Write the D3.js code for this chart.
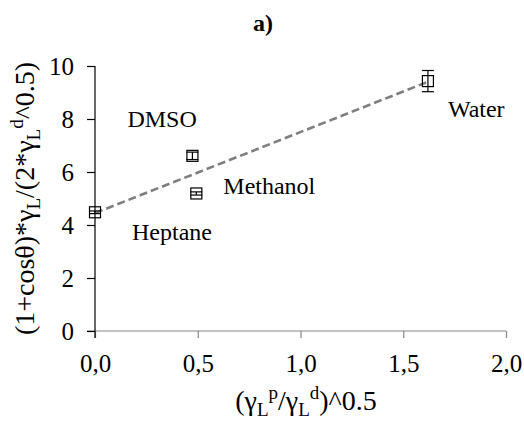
<!DOCTYPE html>
<html>
<head>
	<meta charset="utf-8">
	<script src="https://cdn.jsdelivr.net/npm/d3@7"></script>
</head>
<body style="margin:0;background:#fff">
<svg id="chart" width="524" height="423" font-family="Liberation Serif"></svg>
<script>
// liquids and measured values
var liquids = ["Heptane", "DMSO", "Methanol", "Water"];
var xVals = [0.0, 0.474, 0.493, 1.62];
var yVals = [4.48, 6.61, 5.19, 9.43];
var yErr = [0.05, 0.14, 0.06, 0.40];

var xTicks = [0, 0.5, 1.0, 1.5, 2.0];
var yTicks = [0, 2, 4, 6, 8, 10];

var serif = "Liberation Serif";

// chart size and margins
var width = 524, height = 423;
var margin = {top: 66, right: 18, bottom: 92, left: 95};
var plotW = width - margin.left - margin.right;
var plotH = height - margin.top - margin.bottom;

var svg = d3.select("#chart");

var x = d3.scaleLinear().domain([0, 2]).range([margin.left, margin.left + plotW]);
var y = d3.scaleLinear().domain([0, 10]).range([margin.top + plotH, margin.top]);

var fmt = function(d) { return d3.format(".1f")(d).replace(".", ","); };

// axes
var xAxis = svg.append("g")
	.attr("transform", "translate(0," + y(0) + ")")
	.call(d3.axisBottom(x).tickValues(xTicks).tickFormat(fmt).tickSize(7).tickSizeOuter(7).tickPadding(16));
xAxis.attr("font-family", serif).attr("font-size", 25);
xAxis.selectAll("path, line").attr("stroke", "#868686").attr("stroke-width", 1.2);
xAxis.select(".domain").attr("d", "M" + (x(0) - 8) + ",0H" + x(2));
xAxis.selectAll("text").attr("fill", "#000");

var yAxis = svg.append("g")
	.attr("transform", "translate(" + x(0) + ",0)")
	.call(d3.axisLeft(y).tickValues(yTicks).tickSize(8).tickSizeOuter(0).tickPadding(13));
yAxis.attr("font-family", serif).attr("font-size", 25);
yAxis.selectAll("path, line").attr("stroke", "#000").attr("stroke-width", 1.2);
yAxis.select(".domain").attr("d", "M0," + y(10) + "V" + (y(0) + 7));
yAxis.selectAll("text").attr("fill", "#000");

// title
svg.append("text")
	.attr("x", 263).attr("y", 31)
	.attr("text-anchor", "middle")
	.attr("font-family", serif).attr("font-size", 24).attr("font-weight", "bold")
	.text("a)");

// linear trend line (least squares)
var n = xVals.length;
var mx = d3.mean(xVals), my = d3.mean(yVals);
var sxy = 0, sxx = 0;
for (var i = 0; i < n; i++) {
	sxy += (xVals[i] - mx) * (yVals[i] - my);
	sxx += (xVals[i] - mx) * (xVals[i] - mx);
}
var slope = sxy / sxx, icpt = my - slope * mx;
var x0 = d3.min(xVals), x1 = d3.max(xVals);
svg.append("line")
	.attr("x1", x(x0)).attr("y1", y(icpt + slope * x0))
	.attr("x2", x(x1)).attr("y2", y(icpt + slope * x1))
	.attr("stroke", "#7f7f7f").attr("stroke-width", 2.6)
	.attr("stroke-dasharray", "8,4");

// points with error bars
var pts = liquids.map(function(d, i) { return {name: d, x: xVals[i], y: yVals[i], e: yErr[i]}; });
var g = svg.append("g").selectAll("g").data(pts).enter().append("g");
g.append("line")
	.attr("x1", function(d) { return x(d.x); }).attr("x2", function(d) { return x(d.x); })
	.attr("y1", function(d) { return y(d.y - d.e); }).attr("y2", function(d) { return y(d.y + d.e); })
	.attr("stroke", "#000").attr("stroke-width", 1.2);
[-1, 1].forEach(function(s) {
	g.append("line")
		.attr("x1", function(d) { return x(d.x) - 6; }).attr("x2", function(d) { return x(d.x) + 6; })
		.attr("y1", function(d) { return y(d.y + s * d.e); }).attr("y2", function(d) { return y(d.y + s * d.e); })
		.attr("stroke", "#000").attr("stroke-width", 1.2);
});
g.append("rect")
	.attr("x", function(d) { return x(d.x) - 5.5; }).attr("y", function(d) { return y(d.y) - 5.5; })
	.attr("width", 11).attr("height", 11)
	.attr("fill", "none").attr("stroke", "#000").attr("stroke-width", 1.2);

// point labels, offset in pixels from each point
var labelOffset = {Heptane: [37, 28], DMSO: [-65, -29], Methanol: [27, 1], Water: [20, 36]};
g.append("text")
	.attr("x", function(d) { return x(d.x) + labelOffset[d.name][0]; })
	.attr("y", function(d) { return y(d.y) + labelOffset[d.name][1]; })
	.attr("font-family", serif).attr("font-size", 24)
	.text(function(d) { return d.name; });

// axis titles
var xt = svg.append("text")
	.attr("x", 306).attr("y", 410)
	.attr("text-anchor", "middle")
	.attr("font-family", serif).attr("font-size", 28);
xt.append("tspan").text("(γ");
xt.append("tspan").attr("dy", 6).attr("font-size", 19).text("L");
xt.append("tspan").attr("dy", -17).attr("font-size", 19).text("p");
xt.append("tspan").attr("dy", 11).text("/γ");
xt.append("tspan").attr("dy", 6).attr("font-size", 19).text("L");
xt.append("tspan").attr("dy", -17).attr("font-size", 19).text("d");
xt.append("tspan").attr("dy", 11).text(")^0.5");

var yt = svg.append("text")
	.attr("transform", "translate(34," + y(5) + ") rotate(-90)")
	.attr("text-anchor", "middle")
	.attr("font-family", serif).attr("font-size", 28);
yt.append("tspan").text("(1+cosθ)*γ");
yt.append("tspan").attr("dy", 6).attr("font-size", 19).text("L");
yt.append("tspan").attr("dy", -6).text("/(2*γ");
yt.append("tspan").attr("dy", 6).attr("font-size", 19).text("L");
yt.append("tspan").attr("dy", -17).attr("font-size", 19).text("d");
yt.append("tspan").attr("dy", 11).text("^0.5)");
</script>
</body>
</html>
